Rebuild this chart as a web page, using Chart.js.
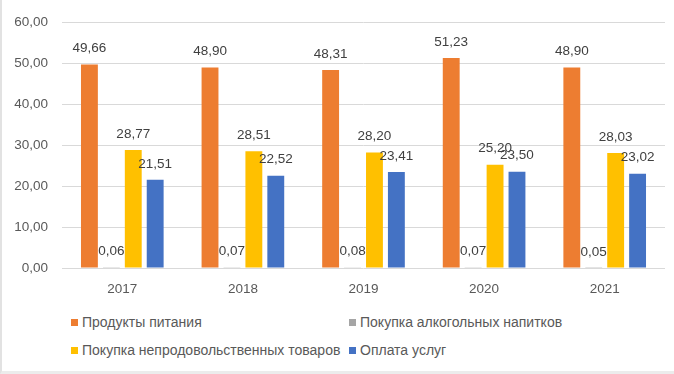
<!DOCTYPE html>
<html>
<head>
<meta charset="utf-8">
<script src="https://cdn.jsdelivr.net/npm/chart.js@4.4.1/dist/chart.umd.min.js"></script>
<style>
  html, body { margin: 0; padding: 0; background: #fff; }
  #wrap {
    position: relative;
    width: 672px;
    height: 371px;
    border-left: 2px solid #e2e2e2;
    border-bottom: 3px solid #ececec;
    overflow: hidden;
    font-family: "Liberation Sans", Arial, sans-serif;
  }
  #chart { position: absolute; left: -2px; top: 0; }
  .legend-item {
    position: absolute;
    font-size: 14px;
    color: #595959;
    white-space: nowrap;
    line-height: 16px;
  }
  .legend-item i {
    display: inline-block;
    width: 7px;
    height: 7px;
    margin-right: 4px;
    vertical-align: 1px;
  }
</style>
</head>
<body>
<div id="wrap">
  <canvas id="chart" width="674" height="300"></canvas>
  <div id="legend"></div>
</div>
<script>
const years = ["2017", "2018", "2019", "2020", "2021"];
const seriesNames = [
  "Продукты питания",
  "Покупка алкогольных напитков",
  "Покупка непродовольственных товаров",
  "Оплата услуг"
];
const foodValues = [49.66, 48.90, 48.31, 51.23, 48.90];
const alcoholValues = [0.06, 0.07, 0.08, 0.07, 0.05];
const goodsValues = [28.77, 28.51, 28.20, 25.20, 28.03];
const servicesValues = [21.51, 22.52, 23.41, 23.50, 23.02];
const colors = ["#ED7D31", "#A5A5A5", "#FFC000", "#4472C4"];

function fmt(v) {
  return v.toFixed(2).replace(".", ",");
}

// value labels above bars, like Excel "outside end"
const barLabels = {
  id: "barLabels",
  afterDatasetsDraw(chart) {
    const ctx = chart.ctx;
    ctx.save();
    ctx.font = "13.5px 'Liberation Sans', Arial, sans-serif";
    ctx.fillStyle = "#404040";
    ctx.textAlign = "center";
    ctx.textBaseline = "middle";
    chart.data.datasets.forEach((ds, i) => {
      chart.getDatasetMeta(i).data.forEach((bar, j) => {
        ctx.fillText(fmt(ds.data[j]), bar.x, bar.y - 16);
      });
    });
    ctx.restore();
  }
};

function initChart() {
  const ctx = document.getElementById("chart").getContext("2d");
  const allValues = [foodValues, alcoholValues, goodsValues, servicesValues];
  return new Chart(ctx, {
    type: "bar",
    data: {
      labels: years,
      datasets: allValues.map((vals, i) => ({
        label: seriesNames[i],
        data: vals,
        backgroundColor: colors[i],
        borderWidth: 0,
        categoryPercentage: 0.727,
        barPercentage: 0.77
      }))
    },
    options: {
      responsive: false,
      animation: false,
      layout: { padding: { top: 17, right: 9, left: 2, bottom: 0 } },
      plugins: {
        legend: { display: false },
        tooltip: { enabled: false }
      },
      scales: {
        x: {
          grid: { display: false, drawTicks: false },
          border: { display: false },
          ticks: {
            color: "#595959",
            font: { family: "'Liberation Sans', Arial, sans-serif", size: 13.5 },
            padding: 13
          },
          afterFit: (scale) => { scale.height = 32; }
        },
        y: {
          min: 0,
          max: 60,
          grid: { color: "#d9d9d9", drawTicks: false },
          border: { display: false },
          ticks: {
            stepSize: 10,
            color: "#595959",
            font: { family: "'Liberation Sans', Arial, sans-serif", size: 13.5 },
            padding: 14,
            callback: (v) => fmt(v)
          },
          afterFit: (scale) => { scale.width = 60; }
        }
      }
    },
    plugins: [barLabels]
  });
}

function renderLegend(chart) {
  const legend = document.getElementById("legend");
  const spots = [[69, 314], [347, 314], [69, 342], [347, 342]];
  chart.data.datasets.forEach((ds, i) => {
    const el = document.createElement("div");
    el.className = "legend-item";
    el.style.left = spots[i][0] + "px";
    el.style.top = spots[i][1] + "px";
    el.innerHTML = `<i style="background:${ds.backgroundColor}"></i>${ds.label}`;
    legend.appendChild(el);
  });
}

const chart = initChart();
renderLegend(chart);
</script>
</body>
</html>
